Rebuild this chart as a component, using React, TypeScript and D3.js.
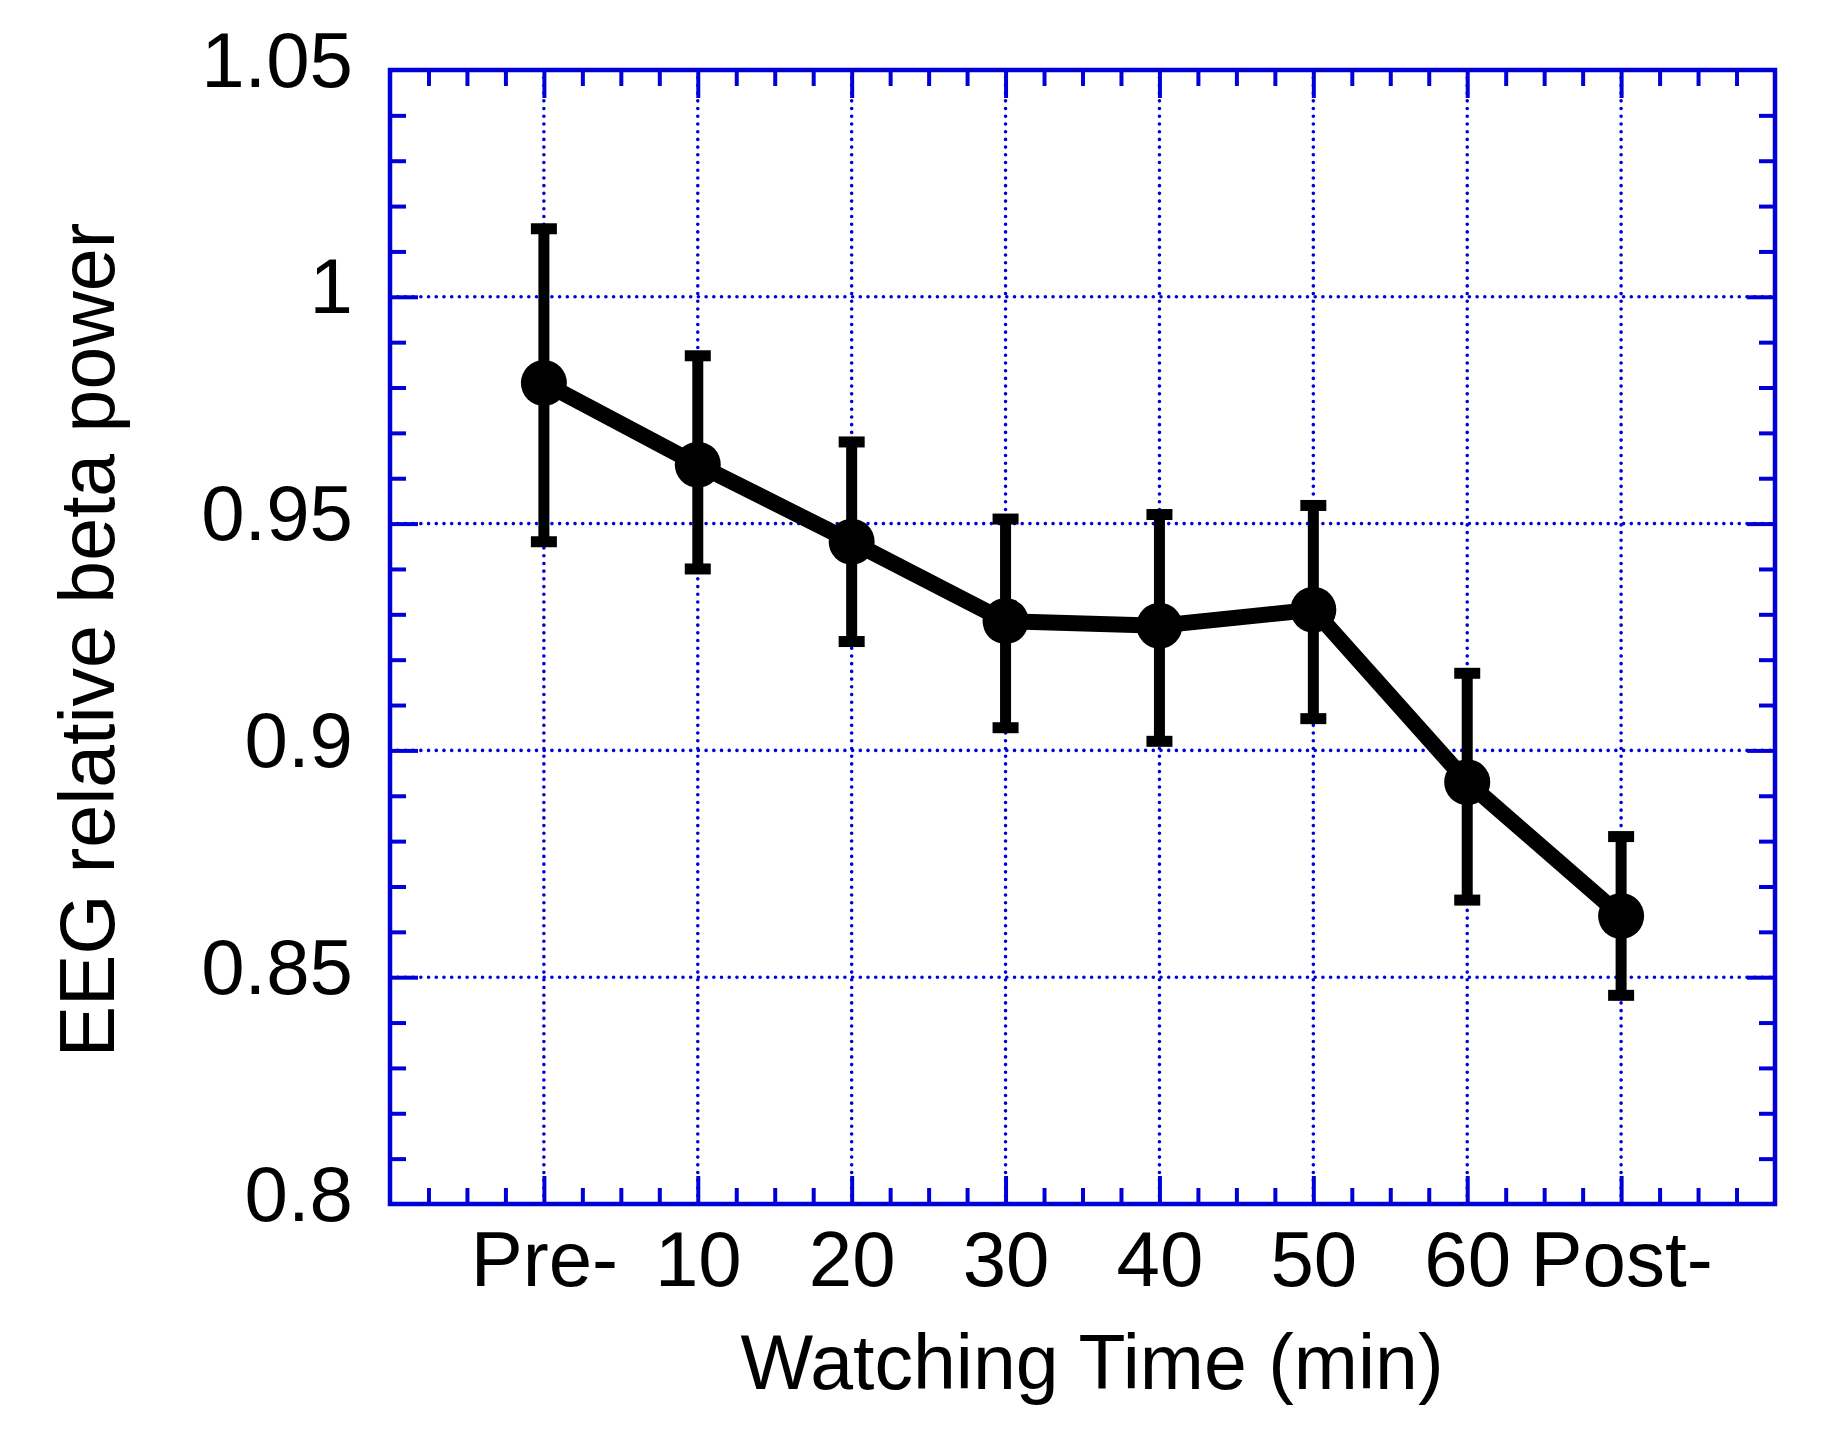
import { useEffect, useRef } from 'react';
import * as d3 from 'd3';

// Watching time (min); Pre- = 0, Post- = 70
const times = [0, 10, 20, 30, 40, 50, 60, 70];
const timeLabels = ['Pre-', '10', '20', '30', '40', '50', '60', 'Post-'];
const betaMean = [0.981, 0.963, 0.946, 0.9285, 0.9275, 0.931, 0.893, 0.8635];
const betaUpper = [1.015, 0.987, 0.968, 0.951, 0.952, 0.954, 0.917, 0.881];
const betaLower = [0.946, 0.94, 0.924, 0.905, 0.902, 0.907, 0.867, 0.846];
const yTickValues = [0.8, 0.85, 0.9, 0.95, 1.0, 1.05];
const yTickLabels = ['0.8', '0.85', '0.9', '0.95', '1', '1.05'];

const W = 1848;
const H = 1440;
const BLUE = '#0000d8';
const FONT = '"Liberation Sans", Arial, Helvetica, sans-serif';

export default function App() {
  const ref = useRef<SVGSVGElement>(null);

  useEffect(() => {
    if (!ref.current) return;
    const svg = d3.select(ref.current);
    svg.selectAll('*').remove();

    const left = 390;
    const right = 1775;
    const top = 70;
    const bottom = 1204;

    const x = d3.scaleLinear().domain([-10, 80]).range([left, right]);
    const y = d3.scaleLinear().domain([0.8, 1.05]).range([bottom, top]);

    const xMinor = d3.range(-10, 80.01, 2.5).filter((v) => v % 10 !== 0);
    const xMajor = d3.range(0, 70.01, 10);
    const yMinor = d3.range(80, 105.01, 1).filter((v) => v % 5 !== 0).map((v) => v / 100);
    const yMajor = [0.85, 0.9, 0.95, 1.0];

    // dotted grid
    const grid = svg.append('g');
    grid
      .selectAll('.gx')
      .data(xMajor)
      .enter()
      .append('line')
      .attr('x1', (d) => x(d))
      .attr('x2', (d) => x(d))
      .attr('y1', top)
      .attr('y2', bottom);
    grid
      .selectAll('.gy')
      .data(yMajor)
      .enter()
      .append('line')
      .attr('x1', left)
      .attr('x2', right)
      .attr('y1', (d) => y(d))
      .attr('y2', (d) => y(d));
    grid
      .selectAll('line')
      .attr('stroke', BLUE)
      .attr('stroke-width', 3.6)
      .attr('stroke-linecap', 'round')
      .attr('stroke-dasharray', '0.01 7.7');

    // ticks (inward, on all four sides)
    const tickStyle = (g: any) => {
      g.select('.domain').remove();
      g.selectAll('line').attr('stroke', BLUE).attr('stroke-width', 4);
      g.selectAll('text').remove();
    };
    const axes: [any, string][] = [
      [d3.axisBottom(x).tickValues(xMinor).tickSize(-16), `translate(0,${bottom})`],
      [d3.axisBottom(x).tickValues(xMajor).tickSize(-28), `translate(0,${bottom})`],
      [d3.axisTop(x).tickValues(xMinor).tickSize(-16), `translate(0,${top})`],
      [d3.axisTop(x).tickValues(xMajor).tickSize(-28), `translate(0,${top})`],
      [d3.axisLeft(y).tickValues(yMinor).tickSize(-16), `translate(${left},0)`],
      [d3.axisLeft(y).tickValues(yMajor).tickSize(-28), `translate(${left},0)`],
      [d3.axisRight(y).tickValues(yMinor).tickSize(-16), `translate(${right},0)`],
      [d3.axisRight(y).tickValues(yMajor).tickSize(-28), `translate(${right},0)`],
    ];
    axes.forEach(([axis, tr]) => {
      svg.append('g').attr('transform', tr).call(axis).call(tickStyle);
    });

    // frame
    svg
      .append('rect')
      .attr('x', left)
      .attr('y', top)
      .attr('width', right - left)
      .attr('height', bottom - top)
      .attr('fill', 'none')
      .attr('stroke', BLUE)
      .attr('stroke-width', 4.5);

    // tick labels
    const xLab = svg
      .append('g')
      .attr('transform', `translate(0,${bottom})`)
      .call(
        d3
          .axisBottom(x)
          .tickValues(times)
          .tickSize(0)
          .tickFormat((d, i) => timeLabels[i])
      );
    xLab.select('.domain').remove();
    xLab
      .selectAll('text')
      .attr('y', 82)
      .attr('dy', null)
      .style('font-family', FONT)
      .style('font-size', '78px')
      .style('fill', '#000');

    const yLab = svg
      .append('g')
      .attr('transform', `translate(${left},0)`)
      .call(
        d3
          .axisLeft(y)
          .tickValues(yTickValues)
          .tickSize(0)
          .tickFormat((d, i) => yTickLabels[i])
      );
    yLab.select('.domain').remove();
    yLab
      .selectAll('text')
      .attr('x', -37)
      .attr('y', 16)
      .attr('dy', null)
      .style('font-family', FONT)
      .style('font-size', '78px')
      .style('fill', '#000');

    // axis titles
    svg
      .append('text')
      .attr('x', 1092)
      .attr('y', 1389)
      .attr('text-anchor', 'middle')
      .style('font-family', FONT)
      .style('font-size', '77px')
      .text('Watching Time (min)');
    svg
      .append('text')
      .attr('transform', `translate(114,${(top + bottom) / 2 + 3}) rotate(-90)`)
      .attr('text-anchor', 'middle')
      .style('font-family', FONT)
      .style('font-size', '77px')
      .text('EEG relative beta power');

    const pts = times.map((t, i) => ({
      t,
      mean: betaMean[i],
      hi: betaUpper[i],
      lo: betaLower[i],
    }));

    // error bars
    const eb = svg.append('g');
    eb.selectAll('.stem')
      .data(pts)
      .enter()
      .append('line')
      .attr('x1', (d) => x(d.t))
      .attr('x2', (d) => x(d.t))
      .attr('y1', (d) => y(d.hi))
      .attr('y2', (d) => y(d.lo))
      .attr('stroke', '#000')
      .attr('stroke-width', 11);
    eb.selectAll('.cap')
      .data(pts.flatMap((d) => [{ t: d.t, v: d.hi }, { t: d.t, v: d.lo }]))
      .enter()
      .append('rect')
      .attr('x', (d) => x(d.t) - 13)
      .attr('y', (d) => y(d.v) - 5.5)
      .attr('width', 26)
      .attr('height', 11)
      .attr('fill', '#000');

    // mean line
    const line = d3
      .line<{ t: number; mean: number }>()
      .x((d) => x(d.t))
      .y((d) => y(d.mean));
    svg
      .append('path')
      .datum(pts)
      .attr('d', line)
      .attr('fill', 'none')
      .attr('stroke', '#000')
      .attr('stroke-width', 16)
      .attr('stroke-linejoin', 'round');

    // octagon-like markers
    const marker = d3.symbol().type(d3.symbolCircle).size(Math.PI * 23 * 23);
    svg
      .selectAll('.dot')
      .data(pts)
      .enter()
      .append('path')
      .attr('d', marker)
      .attr('transform', (d) => `translate(${x(d.t)},${y(d.mean)})`)
      .attr('fill', '#000');
  }, []);

  return (
    <svg
      ref={ref}
      width={W}
      height={H}
      viewBox={`0 0 ${W} ${H}`}
      style={{ position: 'absolute', left: 0, top: 0, background: '#fff' }}
    />
  );
}
